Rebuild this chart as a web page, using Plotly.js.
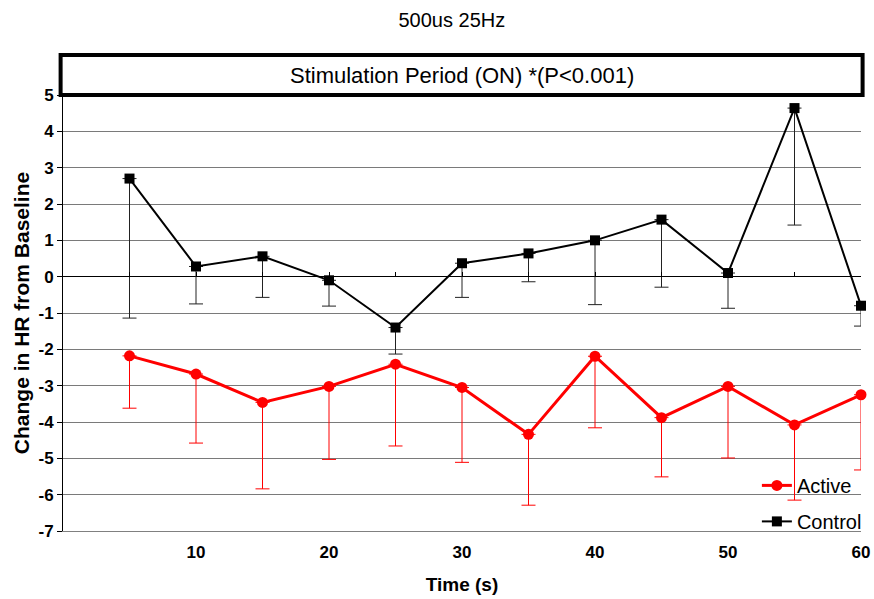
<!DOCTYPE html>
<html>
<head>
<meta charset="utf-8">
<script src="https://cdn.plot.ly/plotly-3.0.1.min.js"></script>
<style>
  html, body { margin: 0; padding: 0; background: #fff; }
  #chart { width: 874px; height: 599px; }
</style>
</head>
<body>
<div id="chart"></div>
<script>
// Time points (s)
const timeS = [5, 10, 15, 20, 25, 30, 35, 40, 45, 50, 55, 60];

// Mean change in heart rate from baseline
const activeMean  = [-2.18, -2.68, -3.46, -3.02, -2.41, -3.05, -4.34, -2.19, -3.88, -3.02, -4.08, -3.25];
const controlMean = [2.70, 0.28, 0.56, -0.10, -1.40, 0.37, 0.64, 1.00, 1.57, 0.10, 4.64, -0.80];

// Error (drawn downward only)
const activeErr  = [1.44, 1.90, 2.38, 2.01, 2.25, 2.06, 1.95, 1.97, 1.63, 1.97, 2.07, 2.07];
const controlErr = [3.84, 1.03, 1.13, 0.71, 0.73, 0.94, 0.78, 1.77, 1.86, 0.97, 3.22, 0.56];

// Axis ticks
const yTickVals = [-7, -6, -5, -4, -3, -2, -1, 0, 1, 2, 3, 4, 5];
const yTickText = ['-7', '-6', '-5', '-4', '-3', '-2', '-1', '0', '1', '2', '3', '4', '5'];
const xTickVals = [10, 20, 30, 40, 50, 60];
const xRange = [0, 60];
const yRange = [-7, 5];

const zeros = timeS.map(() => 0);
const FONT = 'Arial, "Liberation Sans", Helvetica, sans-serif';

const traces = [
  {
    name: 'Active',
    x: timeS, y: activeMean,
    type: 'scatter', mode: 'lines+markers', cliponaxis: false,
    line: { color: '#ff0000', width: 3 },
    marker: { color: '#ff0000', symbol: 'circle', size: 11 },
    error_y: { type: 'data', symmetric: false, array: zeros, arrayminus: activeErr,
               color: '#ff0000', thickness: 1, width: 7 },
    legendgroup: 'a'
  },
  {
    name: 'Control',
    x: timeS, y: controlMean,
    type: 'scatter', mode: 'lines+markers', cliponaxis: false,
    line: { color: '#000000', width: 2 },
    marker: { color: '#000000', symbol: 'square', size: 10 },
    error_y: { type: 'data', symmetric: false, array: zeros, arrayminus: controlErr,
               color: '#222222', thickness: 1, width: 7 },
    legendgroup: 'c'
  },
  // hidden carrier so the tick row along y = 0 gets drawn
  {
    x: xRange, y: [0, 0], xaxis: 'x2', yaxis: 'y',
    type: 'scatter', mode: 'markers', marker: { opacity: 0 },
    showlegend: false, hoverinfo: 'skip'
  }
];

// fraction of the plot height where y = 0 sits, for the tick row on the zero line
const zeroPos = (0 - yRange[0]) / (yRange[1] - yRange[0]);
const plotH = 599 - 95 - 68;
const boxTop = 1 + 40 / plotH;

const layout = {
  width: 874, height: 599,
  margin: { l: 63, r: 13, t: 95, b: 68, autoexpand: false },
  paper_bgcolor: '#ffffff', plot_bgcolor: '#ffffff',
  font: { family: FONT, color: '#000' },
  title: { text: '500us 25Hz', font: { family: FONT, size: 20, color: '#000' },
           xref: 'container', x: 0.517, xanchor: 'center',
           yref: 'container', y: 0.966, yanchor: 'middle' },
  showlegend: true,
  legend: {
    xref: 'container', yref: 'container',
    x: 0.866, xanchor: 'left', y: 0.097, yanchor: 'bottom',
    bgcolor: 'rgba(0,0,0,0)', borderwidth: 0,
    font: { family: FONT, size: 20, color: '#000' },
    traceorder: 'grouped', tracegroupgap: 7
  },
  xaxis: {
    range: xRange, tickvals: xTickVals, automargin: false,
    ticks: 'outside', ticklen: 6, tickcolor: 'rgba(0,0,0,0)',
    showgrid: false, zeroline: false,
    showline: true, linecolor: '#808080', linewidth: 1,
    tickfont: { family: FONT, size: 17, color: '#000', weight: 'bold' },
    title: { text: '<b>Time (s)</b>', font: { family: FONT, size: 19, color: '#000' }, standoff: 16 }
  },
  xaxis2: {
    overlaying: 'x', anchor: 'free', position: zeroPos, automargin: false,
    range: xRange, tick0: 0, dtick: 5,
    ticks: 'inside', ticklen: 5, tickcolor: '#000', tickwidth: 1,
    showticklabels: false, showgrid: false, zeroline: false, showline: false
  },
  yaxis: {
    range: yRange, tickvals: yTickVals, ticktext: yTickText, automargin: false,
    ticks: 'outside', ticklen: 5, tickcolor: '#000', tickwidth: 1,
    showline: true, linecolor: '#000', linewidth: 1,
    showgrid: true, gridcolor: '#7a7a7a', gridwidth: 1,
    zeroline: true, zerolinecolor: '#000', zerolinewidth: 1,
    tickfont: { family: FONT, size: 17, color: '#000', weight: 'bold' },
    title: { text: '<b>Change in HR from Baseline</b>', font: { family: FONT, size: 21, color: '#000' }, standoff: 3 }
  },
  shapes: [
    { type: 'rect', xref: 'paper', yref: 'paper', x0: -0.003, x1: 1.002, y0: 1, y1: boxTop,
      line: { color: '#000', width: 4 }, fillcolor: 'rgba(0,0,0,0)' }
  ],
  annotations: [
    { text: 'Stimulation Period (ON) *(P&lt;0.001)', xref: 'paper', yref: 'paper',
      x: 0.5, y: (1 + boxTop) / 2, xanchor: 'center', yanchor: 'middle', showarrow: false,
      font: { family: FONT, size: 22, color: '#000' } }
  ]
};

Plotly.newPlot('chart', traces, layout, { displayModeBar: false, staticPlot: true });
</script>
</body>
</html>
